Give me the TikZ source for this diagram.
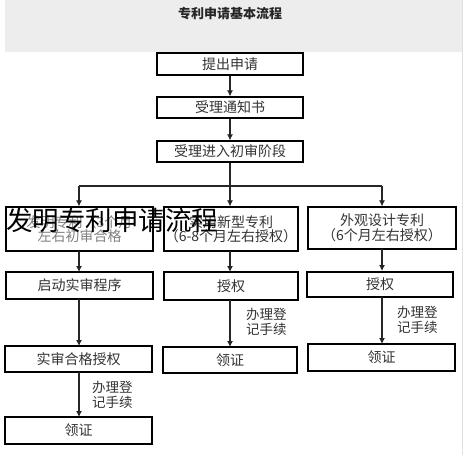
\documentclass[tikz,border=0pt]{standalone}
\usepackage{fontspec}
\setmainfont{Noto Sans CJK SC}
\usetikzlibrary{arrows.meta}
\begin{document}
\begin{tikzpicture}[x=1pt,y=-1pt,
  box/.style={draw=black, line width=1.2pt, inner sep=0pt, align=center,
    text=black!80, font=\fontsize{14}{14.5}\selectfont},
  arr/.style={draw=black!85, line width=1.1pt, -{Latex[length=6pt,width=6pt]}},
  ln/.style={draw=black!85, line width=1.1pt},
  lbl/.style={align=left, anchor=west, inner sep=0pt, text=black!80,
    font=\fontsize{13.5}{14.5}\selectfont},
  ]
\useasboundingbox (0,0) rectangle (470,461);
\fill[white] (0,0) rectangle (470,461);
\fill[black!7] (5,0) rectangle (462,52);
\draw[black!12, line width=0.8pt] (462,0) -- (462,455);
\node[font=\bfseries\fontsize{13}{14}\selectfont, text=black!85] (title) at (230,14) {专利申请基本流程};

\node[box, minimum width=146pt, minimum height=22pt] (b1) at (230,64) {提出申请};
\node[box, minimum width=146pt, minimum height=21pt] (b2) at (230,107.5) {受理通知书};
\node[box, minimum width=146pt, minimum height=21pt] (b3) at (230,151.5) {受理进入初审阶段};

\node[box, minimum width=147pt, minimum height=44pt, text=black!50] (L1) at (79.5,229) {发明专利（3个月\\左右初审合格};
\node[box, minimum width=134pt, minimum height=44pt] (M1) at (231,229) {实用新型专利\\（6-8个月左右授权）};
\node[box, minimum width=148pt, minimum height=42pt] (R1) at (382,228) {外观设计专利\\（6个月左右授权）};

\node[box, minimum width=147pt, minimum height=27pt] (L2) at (79.5,285.5) {启动实审程序};
\node[box, minimum width=134pt, minimum height=28pt] (M2) at (231,286) {授权};
\node[box, minimum width=146pt, minimum height=25pt] (R2) at (380,284.5) {授权};

\node[box, minimum width=147pt, minimum height=26pt] (L3) at (78.5,359) {实审合格授权};
\node[box, minimum width=134pt, minimum height=26pt] (M3) at (230,360) {领证};
\node[box, minimum width=147pt, minimum height=27pt] (R3) at (381.5,357.5) {领证};
\node[box, minimum width=147pt, minimum height=27pt] (L4) at (78.5,430.5) {领证};

\coordinate (sp) at (230,186);
\coordinate (spL) at (79,186);
\coordinate (spR) at (382,186);

\draw[arr] (b1) -- (b2);
\draw[arr] (b2) -- (b3);
\draw[ln] (b3) -- (sp);
\draw[ln] (spL) -- (spR);
\draw[arr] (sp) -- (sp |- M1.north);
\draw[arr] (spL) -- (spL |- L1.north);
\draw[arr] (spR) -- (spR |- R1.north);

\draw[arr] (79,251) -- (79,272);
\draw[arr] (230,251) -- (230,272);
\draw[arr] (382,249) -- (382,271);

\draw[arr] (79,299) -- (79,346);
\draw[arr] (230,300) -- (230,347);
\draw[arr] (382,297) -- (382,344);
\draw[arr] (79,372) -- (79,417);

\node[lbl] (lm) at (246,322) {办理登\\记手续};
\node[lbl] (lr) at (397,320) {办理登\\记手续};
\node[lbl] (ll) at (92,395) {办理登\\记手续};

\node[anchor=west, inner sep=0pt, font=\fontsize{26.5}{28}\selectfont, text=black] (ov) at (6,220) {发明专利申请流程};
\end{tikzpicture}
\end{document}
